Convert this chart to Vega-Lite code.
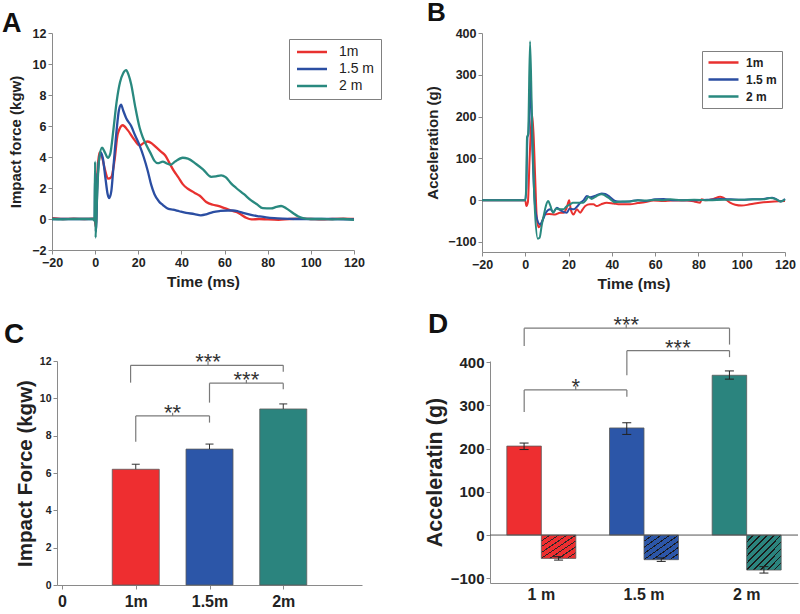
{
  "$schema": "https://vega.github.io/schema/vega-lite/v6.json",
  "autosize": {"type": "pad"},
  "padding": {"left": 2, "top": 0, "right": 0, "bottom": 0},
  "background": "white",
  "config": {
    "font": "Liberation Sans",
    "view": {"stroke": null},
    "axis": {"domainColor": "#8a8a8a", "tickColor": "#8a8a8a", "labelColor": "#222222", "titleColor": "#222222", "labelFontWeight": "bold", "titleFontWeight": "bold", "grid": false, "tickSize": 4, "labelPadding": 2, "labelFont": "Liberation Sans", "titleFont": "Liberation Sans", "labelFlush": false, "labelOverlap": false},
    "title": {"font": "Liberation Sans", "fontWeight": "bold", "anchor": "start", "frame": "group", "color": "#111111", "baseline": "alphabetic"}
  },
  "datasets": {
    "forceCurves": [
      {"s":"1m","t":-20,"v":0.05},{"s":"1m","t":-15,"v":0.0},{"s":"1m","t":-10,"v":0.02},{"s":"1m","t":-5,"v":0.0},{"s":"1m","t":-1,"v":0.02},{"s":"1m","t":-0.2,"v":0.0},{"s":"1m","t":0.3,"v":-0.5},{"s":"1m","t":1,"v":2.8},{"s":"1m","t":2,"v":4.3},{"s":"1m","t":3.2,"v":4.0},{"s":"1m","t":4.5,"v":3.2},{"s":"1m","t":6,"v":2.6},{"s":"1m","t":7.5,"v":2.7},{"s":"1m","t":9,"v":3.8},{"s":"1m","t":10.5,"v":5.5},{"s":"1m","t":12.8,"v":6.05},{"s":"1m","t":15,"v":5.75},{"s":"1m","t":18,"v":5.15},{"s":"1m","t":20.6,"v":4.75},{"s":"1m","t":22.5,"v":4.9},{"s":"1m","t":24.4,"v":5.0},{"s":"1m","t":26.5,"v":4.85},{"s":"1m","t":28.5,"v":4.6},{"s":"1m","t":30.5,"v":4.35},{"s":"1m","t":32.5,"v":4.1},{"s":"1m","t":34.5,"v":3.6},{"s":"1m","t":36.5,"v":3.1},{"s":"1m","t":38.5,"v":2.7},{"s":"1m","t":40.6,"v":2.25},{"s":"1m","t":43,"v":1.95},{"s":"1m","t":46,"v":1.7},{"s":"1m","t":48.5,"v":1.5},{"s":"1m","t":51.5,"v":1.1},{"s":"1m","t":54.6,"v":0.92},{"s":"1m","t":57,"v":0.85},{"s":"1m","t":60,"v":0.7},{"s":"1m","t":63,"v":0.55},{"s":"1m","t":65.5,"v":0.45},{"s":"1m","t":67.7,"v":0.28},{"s":"1m","t":70,"v":0.08},{"s":"1m","t":72.5,"v":-0.03},{"s":"1m","t":76,"v":0.0},{"s":"1m","t":80,"v":-0.03},{"s":"1m","t":85,"v":-0.05},{"s":"1m","t":90,"v":0.0},{"s":"1m","t":95,"v":0.02},{"s":"1m","t":100,"v":0.0},{"s":"1m","t":105,"v":-0.03},{"s":"1m","t":110,"v":0.0},{"s":"1m","t":115,"v":0.02},{"s":"1m","t":120,"v":0.0},
      {"s":"1.5 m","t":-20,"v":0.0},{"s":"1.5 m","t":-10,"v":0.0},{"s":"1.5 m","t":-1,"v":0.0},{"s":"1.5 m","t":-0.2,"v":0.0},{"s":"1.5 m","t":0,"v":3.0},{"s":"1.5 m","t":0.3,"v":-0.8},{"s":"1.5 m","t":1.2,"v":2.8},{"s":"1.5 m","t":2.6,"v":4.3},{"s":"1.5 m","t":3.6,"v":3.9},{"s":"1.5 m","t":4.8,"v":2.6},{"s":"1.5 m","t":5.8,"v":1.6},{"s":"1.5 m","t":6.5,"v":1.35},{"s":"1.5 m","t":7.5,"v":1.8},{"s":"1.5 m","t":8.5,"v":3.4},{"s":"1.5 m","t":10,"v":5.8},{"s":"1.5 m","t":11,"v":7.0},{"s":"1.5 m","t":12,"v":7.38},{"s":"1.5 m","t":13,"v":7.0},{"s":"1.5 m","t":14.4,"v":6.5},{"s":"1.5 m","t":16.7,"v":6.0},{"s":"1.5 m","t":18.5,"v":5.4},{"s":"1.5 m","t":20.6,"v":4.75},{"s":"1.5 m","t":22.5,"v":4.0},{"s":"1.5 m","t":24.4,"v":3.1},{"s":"1.5 m","t":26,"v":2.2},{"s":"1.5 m","t":27.5,"v":1.6},{"s":"1.5 m","t":29.5,"v":1.15},{"s":"1.5 m","t":31.4,"v":0.9},{"s":"1.5 m","t":34,"v":0.65},{"s":"1.5 m","t":36,"v":0.6},{"s":"1.5 m","t":39,"v":0.5},{"s":"1.5 m","t":42.2,"v":0.4},{"s":"1.5 m","t":46,"v":0.32},{"s":"1.5 m","t":49,"v":0.24},{"s":"1.5 m","t":51.5,"v":0.3},{"s":"1.5 m","t":54.6,"v":0.45},{"s":"1.5 m","t":58,"v":0.52},{"s":"1.5 m","t":61.5,"v":0.55},{"s":"1.5 m","t":64,"v":0.55},{"s":"1.5 m","t":66.2,"v":0.5},{"s":"1.5 m","t":69,"v":0.38},{"s":"1.5 m","t":72.3,"v":0.26},{"s":"1.5 m","t":76,"v":0.17},{"s":"1.5 m","t":79.3,"v":0.1},{"s":"1.5 m","t":83,"v":0.05},{"s":"1.5 m","t":87,"v":0.02},{"s":"1.5 m","t":92,"v":0.0},{"s":"1.5 m","t":100,"v":0.0},{"s":"1.5 m","t":110,"v":0.0},{"s":"1.5 m","t":120,"v":-0.02},
      {"s":"2 m","t":-20,"v":0.0},{"s":"2 m","t":-15,"v":-0.02},{"s":"2 m","t":-10,"v":0.0},{"s":"2 m","t":-5,"v":0.0},{"s":"2 m","t":-1,"v":0.0},{"s":"2 m","t":-0.3,"v":-0.1},{"s":"2 m","t":0,"v":3.7},{"s":"2 m","t":0.2,"v":-1.2},{"s":"2 m","t":0.8,"v":1.2},{"s":"2 m","t":1.8,"v":3.8},{"s":"2 m","t":3.2,"v":4.6},{"s":"2 m","t":4.5,"v":4.3},{"s":"2 m","t":5.9,"v":3.95},{"s":"2 m","t":7,"v":4.2},{"s":"2 m","t":8.5,"v":5.8},{"s":"2 m","t":10,"v":7.6},{"s":"2 m","t":11.5,"v":8.8},{"s":"2 m","t":13,"v":9.4},{"s":"2 m","t":14.4,"v":9.6},{"s":"2 m","t":15.5,"v":9.3},{"s":"2 m","t":16.7,"v":8.7},{"s":"2 m","t":18.5,"v":7.3},{"s":"2 m","t":20.6,"v":5.9},{"s":"2 m","t":22,"v":5.3},{"s":"2 m","t":23.6,"v":4.8},{"s":"2 m","t":25.5,"v":4.3},{"s":"2 m","t":27.5,"v":3.75},{"s":"2 m","t":29,"v":3.6},{"s":"2 m","t":31.4,"v":3.7},{"s":"2 m","t":33,"v":3.6},{"s":"2 m","t":35,"v":3.5},{"s":"2 m","t":37,"v":3.7},{"s":"2 m","t":40.6,"v":3.95},{"s":"2 m","t":43,"v":3.9},{"s":"2 m","t":46.8,"v":3.55},{"s":"2 m","t":50,"v":3.2},{"s":"2 m","t":53.8,"v":2.72},{"s":"2 m","t":56,"v":2.75},{"s":"2 m","t":58.4,"v":2.82},{"s":"2 m","t":60.5,"v":2.7},{"s":"2 m","t":63,"v":2.3},{"s":"2 m","t":65.4,"v":2.0},{"s":"2 m","t":69,"v":1.6},{"s":"2 m","t":72.3,"v":1.2},{"s":"2 m","t":75,"v":0.95},{"s":"2 m","t":77.7,"v":0.7},{"s":"2 m","t":81.6,"v":0.68},{"s":"2 m","t":84,"v":0.78},{"s":"2 m","t":86.2,"v":0.84},{"s":"2 m","t":88.5,"v":0.7},{"s":"2 m","t":91.7,"v":0.39},{"s":"2 m","t":94,"v":0.18},{"s":"2 m","t":96.3,"v":0.06},{"s":"2 m","t":100,"v":0.0},{"s":"2 m","t":105,"v":0.0},{"s":"2 m","t":110,"v":-0.02},{"s":"2 m","t":115,"v":0.0},{"s":"2 m","t":120,"v":-0.05}
    ],
    "accelCurves": [
      {"s":"1m","t":-20,"v":0},{"s":"1m","t":-10,"v":0},{"s":"1m","t":-1,"v":0},{"s":"1m","t":0,"v":0},{"s":"1m","t":0.5,"v":-14},{"s":"1m","t":1.2,"v":-5},{"s":"1m","t":2.0,"v":100},{"s":"1m","t":3.1,"v":207},{"s":"1m","t":3.8,"v":160},{"s":"1m","t":4.6,"v":50},{"s":"1m","t":5.3,"v":-40},{"s":"1m","t":6.2,"v":-65},{"s":"1m","t":7.5,"v":-55},{"s":"1m","t":9.1,"v":-34},{"s":"1m","t":11,"v":-33},{"s":"1m","t":13.8,"v":-34},{"s":"1m","t":16,"v":-30},{"s":"1m","t":17.7,"v":-30},{"s":"1m","t":19,"v":-20},{"s":"1m","t":20.3,"v":0},{"s":"1m","t":21,"v":-22},{"s":"1m","t":22.3,"v":-34},{"s":"1m","t":23.8,"v":-22},{"s":"1m","t":25.4,"v":-30},{"s":"1m","t":26.5,"v":-22},{"s":"1m","t":27.7,"v":-14},{"s":"1m","t":29.9,"v":-10},{"s":"1m","t":31.5,"v":-10},{"s":"1m","t":33,"v":-14},{"s":"1m","t":35,"v":-10},{"s":"1m","t":37.6,"v":-6},{"s":"1m","t":40.8,"v":-8},{"s":"1m","t":43.8,"v":-10},{"s":"1m","t":48.4,"v":-10},{"s":"1m","t":52,"v":-7},{"s":"1m","t":55,"v":-5},{"s":"1m","t":59.2,"v":-1},{"s":"1m","t":63.8,"v":-2},{"s":"1m","t":68,"v":-1},{"s":"1m","t":74.6,"v":-1},{"s":"1m","t":78,"v":-3},{"s":"1m","t":80.8,"v":-6},{"s":"1m","t":81.5,"v":2},{"s":"1m","t":83,"v":0},{"s":"1m","t":86.9,"v":3},{"s":"1m","t":90,"v":8},{"s":"1m","t":91.5,"v":6},{"s":"1m","t":94.6,"v":-6},{"s":"1m","t":97,"v":-11},{"s":"1m","t":100,"v":-13},{"s":"1m","t":103.8,"v":-10},{"s":"1m","t":110,"v":-5},{"s":"1m","t":115,"v":-3},{"s":"1m","t":120,"v":-2},
      {"s":"1.5 m","t":-20,"v":0},{"s":"1.5 m","t":-10,"v":0},{"s":"1.5 m","t":-1,"v":0},{"s":"1.5 m","t":0,"v":0},{"s":"1.5 m","t":0.5,"v":30},{"s":"1.5 m","t":1.0,"v":150},{"s":"1.5 m","t":1.5,"v":160},{"s":"1.5 m","t":2.3,"v":290},{"s":"1.5 m","t":3.3,"v":120},{"s":"1.5 m","t":4.3,"v":0},{"s":"1.5 m","t":5.2,"v":-40},{"s":"1.5 m","t":6.8,"v":-58},{"s":"1.5 m","t":8,"v":-48},{"s":"1.5 m","t":9.5,"v":-30},{"s":"1.5 m","t":11.5,"v":-22},{"s":"1.5 m","t":13,"v":-28},{"s":"1.5 m","t":14.6,"v":-18},{"s":"1.5 m","t":16.5,"v":-25},{"s":"1.5 m","t":19.2,"v":-30},{"s":"1.5 m","t":20.5,"v":-20},{"s":"1.5 m","t":22.3,"v":-22},{"s":"1.5 m","t":24,"v":-15},{"s":"1.5 m","t":25.4,"v":-6},{"s":"1.5 m","t":27,"v":0},{"s":"1.5 m","t":28.4,"v":10},{"s":"1.5 m","t":30,"v":7},{"s":"1.5 m","t":32,"v":10},{"s":"1.5 m","t":35.3,"v":16},{"s":"1.5 m","t":37,"v":15},{"s":"1.5 m","t":39,"v":8},{"s":"1.5 m","t":41.5,"v":-2},{"s":"1.5 m","t":44,"v":-4},{"s":"1.5 m","t":48,"v":-3},{"s":"1.5 m","t":52,"v":0},{"s":"1.5 m","t":55,"v":-2},{"s":"1.5 m","t":60,"v":2},{"s":"1.5 m","t":64,"v":3},{"s":"1.5 m","t":68,"v":0},{"s":"1.5 m","t":72,"v":0},{"s":"1.5 m","t":78,"v":0},{"s":"1.5 m","t":84,"v":1},{"s":"1.5 m","t":90,"v":3},{"s":"1.5 m","t":95,"v":2},{"s":"1.5 m","t":100,"v":1},{"s":"1.5 m","t":105,"v":2},{"s":"1.5 m","t":110,"v":3},{"s":"1.5 m","t":114,"v":6},{"s":"1.5 m","t":116,"v":2},{"s":"1.5 m","t":118,"v":-3},{"s":"1.5 m","t":120,"v":3},
      {"s":"2 m","t":-20,"v":0},{"s":"2 m","t":-10,"v":0},{"s":"2 m","t":-1,"v":0},{"s":"2 m","t":0,"v":0},{"s":"2 m","t":0.4,"v":30},{"s":"2 m","t":0.8,"v":150},{"s":"2 m","t":1.3,"v":158},{"s":"2 m","t":2.2,"v":380},{"s":"2 m","t":3.0,"v":220},{"s":"2 m","t":3.7,"v":80},{"s":"2 m","t":4.5,"v":-30},{"s":"2 m","t":5.8,"v":-92},{"s":"2 m","t":6.6,"v":-90},{"s":"2 m","t":7.6,"v":-60},{"s":"2 m","t":8.6,"v":-35},{"s":"2 m","t":9.6,"v":-12},{"s":"2 m","t":10.6,"v":-2},{"s":"2 m","t":11.5,"v":-12},{"s":"2 m","t":12.9,"v":-30},{"s":"2 m","t":14.3,"v":-20},{"s":"2 m","t":15.5,"v":-22},{"s":"2 m","t":17.6,"v":-22},{"s":"2 m","t":19,"v":-15},{"s":"2 m","t":20.7,"v":-10},{"s":"2 m","t":22,"v":-6},{"s":"2 m","t":23.8,"v":-6},{"s":"2 m","t":26.8,"v":-6},{"s":"2 m","t":28,"v":0},{"s":"2 m","t":29.1,"v":8},{"s":"2 m","t":30.7,"v":3},{"s":"2 m","t":33,"v":10},{"s":"2 m","t":35.3,"v":14},{"s":"2 m","t":38.4,"v":6},{"s":"2 m","t":41.5,"v":-5},{"s":"2 m","t":45,"v":-3},{"s":"2 m","t":48.5,"v":-3},{"s":"2 m","t":52,"v":0},{"s":"2 m","t":56,"v":-1},{"s":"2 m","t":60,"v":1},{"s":"2 m","t":63.8,"v":0},{"s":"2 m","t":67,"v":2},{"s":"2 m","t":72,"v":0},{"s":"2 m","t":78,"v":1},{"s":"2 m","t":85,"v":0},{"s":"2 m","t":92,"v":1},{"s":"2 m","t":100,"v":1},{"s":"2 m","t":106,"v":2},{"s":"2 m","t":110,"v":2},{"s":"2 m","t":113,"v":5},{"s":"2 m","t":116,"v":2},{"s":"2 m","t":118,"v":-3},{"s":"2 m","t":120,"v":2}
    ],
    "forceBars": [
      {"h":"1m","idx":1,"f":6.2,"hi":6.47},
      {"h":"1.5m","idx":2,"f":7.28,"hi":7.55},
      {"h":"2m","idx":3,"f":9.43,"hi":9.7}
    ],
    "forceBrackets": [
      {"from":1,"to":2,"mid":1.5,"level":9.06,"legL":7.68,"legR":8.7,"top":9.23,"label":"**"},
      {"from":2,"to":3,"mid":2.5,"level":10.81,"legL":9.77,"legR":10.49,"top":10.98,"label":"***"},
      {"from":0.93,"to":3,"mid":1.98,"level":11.77,"legL":10.84,"legR":11.43,"top":12.0,"label":"***"}
    ],
    "accelBars": [
      {"g":"1 m","k":"peak","v":206,"lo":198,"hi":213},
      {"g":"1 m","k":"trough","v":-54,"lo":-58,"hi":-50},
      {"g":"1.5 m","k":"peak","v":248,"lo":233,"hi":260},
      {"g":"1.5 m","k":"trough","v":-57,"lo":-61,"hi":-53},
      {"g":"2 m","k":"peak","v":370,"lo":361,"hi":380},
      {"g":"2 m","k":"trough","v":-81,"lo":-88,"hi":-73}
    ],
    "accelBrackets": [
      {"from":0.333,"to":1.333,"mid":0.835,"level":336,"legL":285,"legR":320,"top":345,"label":"*"},
      {"from":1.333,"to":2.333,"mid":1.83,"level":427,"legL":370,"legR":412,"top":436,"label":"***"},
      {"from":0.333,"to":2.333,"mid":1.327,"level":479,"legL":438,"legR":441,"top":488,"label":"***"}
    ],
    "zeroLine": [{"x0": 0, "x1": 3, "y": 0}]
  },
  "columns": 2,
  "align": "none",
  "bounds": "flush",
  "spacing": {"row": 109, "column": 120},
  "resolve": {"scale": {"color": "independent"}, "legend": {"color": "independent"}},
  "concat": [
    {
      "width": 302, "height": 217,
      "title": {"text": "A", "fontSize": 27, "dx": -50, "offset": -11},
      "data": {"name": "forceCurves"},
      "mark": {"type": "line", "strokeWidth": 2.3, "interpolate": "monotone"},
      "encoding": {
        "x": {"field": "t", "type": "quantitative", "scale": {"domain": [-20, 120], "nice": false, "zero": false},
              "axis": {"values": [-20, 0, 20, 40, 60, 80, 100, 120], "title": "Time (ms)", "titleFontSize": 15.5, "labelFontSize": 12.5, "titlePadding": 6}},
        "y": {"field": "v", "type": "quantitative", "scale": {"domain": [-2, 12], "nice": false, "zero": false},
              "axis": {"values": [-2, 0, 2, 4, 6, 8, 10, 12], "title": "Impact force (kgw)", "titleFontSize": 15, "labelFontSize": 12.5, "titlePadding": 8}},
        "color": {"field": "s", "type": "nominal", "scale": {"domain": ["1m", "1.5 m", "2 m"], "range": ["#e8312f", "#2b4ea2", "#29897f"]},
                  "legend": {"title": null, "orient": "none", "legendX": 237, "legendY": 6, "symbolType": "M-1,0L5,0", "symbolSize": 100, "symbolStrokeWidth": 2.5, "labelFontSize": 14, "labelFontWeight": "normal", "labelColor": "#222222", "labelOffset": 30, "padding": 6, "rowPadding": 3, "strokeColor": "#808080", "fillColor": "white"}}
      }
    },
    {
      "width": 303, "height": 219,
      "title": {"text": "B", "fontSize": 26, "dx": -55, "offset": 1},
      "data": {"name": "accelCurves"},
      "mark": {"type": "line", "strokeWidth": 2, "interpolate": "monotone"},
      "encoding": {
        "x": {"field": "t", "type": "quantitative", "scale": {"domain": [-20, 120], "nice": false, "zero": false},
              "axis": {"values": [-20, 0, 20, 40, 60, 80, 100, 120], "title": "Time (ms)", "titleFontSize": 15.5, "labelFontSize": 12.5, "titlePadding": 6}},
        "y": {"field": "v", "type": "quantitative", "scale": {"domain": [-124, 400], "nice": false, "zero": false},
              "axis": {"values": [-100, 0, 100, 200, 300, 400], "title": "Acceleration (g)", "titleFontSize": 15, "labelFontSize": 12.5, "titlePadding": 7}},
        "color": {"field": "s", "type": "nominal", "scale": {"domain": ["1m", "1.5 m", "2 m"], "range": ["#e8312f", "#2b4ea2", "#29897f"]},
                  "legend": {"title": null, "orient": "none", "legendX": 220, "legendY": 18, "symbolType": "M-1,0L5,0", "symbolSize": 100, "symbolStrokeWidth": 2.5, "labelFontSize": 12, "labelFontWeight": "bold", "labelColor": "#222222", "labelOffset": 26, "padding": 5, "rowPadding": 4, "strokeColor": "#808080", "fillColor": "white"}}
      }
    },
    {
      "width": 310, "height": 224,
      "title": {"text": "C", "fontSize": 28, "dx": -48, "offset": 2},
      "layer": [
        {
          "data": {"name": "forceBars"},
          "mark": {"type": "bar", "orient": "vertical", "width": 47, "stroke": "#5a5a5a", "strokeWidth": 0.8},
          "encoding": {
            "x": {"field": "idx", "type": "quantitative", "scale": {"domain": [0, 4], "range": [5, 310], "nice": false, "zero": false},
                  "axis": {"values": [0, 1, 2, 3], "labelExpr": "datum.value == 0 ? '0' : datum.value == 1 ? '1m' : datum.value == 2 ? '1.5m' : '2m'", "title": null, "labelFontSize": 16, "labelPadding": 4}},
            "y": {"field": "f", "type": "quantitative", "scale": {"domain": [0, 12], "nice": false},
                  "axis": {"values": [0, 2, 4, 6, 8, 10, 12], "tickCount": 7, "labelOverlap": false, "offset": -5, "title": "Impact Force (kgw)", "titleFontSize": 20.5, "labelFontSize": 10.5, "titlePadding": 4}},
            "color": {"field": "h", "type": "nominal", "scale": {"domain": ["1m", "1.5m", "2m"], "range": ["#ee2e30", "#2c56a8", "#2b847e"]}, "legend": null}
          }
        },
        {
          "data": {"name": "forceBars"},
          "mark": {"type": "rule", "color": "#333333", "strokeWidth": 1},
          "encoding": {"x": {"field": "idx", "type": "quantitative"}, "y": {"field": "f", "type": "quantitative", "axis": {"values": [0, 2, 4, 6, 8, 10, 12], "tickCount": 7, "labelOverlap": false, "offset": -5, "title": "Impact Force (kgw)", "titleFontSize": 20.5, "labelFontSize": 10.5, "titlePadding": 4}}, "y2": {"field": "hi"}}
        },
        {
          "data": {"name": "forceBars"},
          "mark": {"type": "point", "shape": "stroke", "size": 64, "color": "#333333", "strokeWidth": 1, "filled": false, "opacity": 1},
          "encoding": {"x": {"field": "idx", "type": "quantitative"}, "y": {"field": "hi", "type": "quantitative", "axis": {"values": [0, 2, 4, 6, 8, 10, 12], "tickCount": 7, "labelOverlap": false, "offset": -5, "title": "Impact Force (kgw)", "titleFontSize": 20.5, "labelFontSize": 10.5, "titlePadding": 4}}}
        },
        {
          "data": {"name": "forceBrackets"},
          "mark": {"type": "rule", "color": "#7a7a7a", "strokeWidth": 1.2},
          "encoding": {"x": {"field": "from", "type": "quantitative"}, "x2": {"field": "to"}, "y": {"field": "level", "type": "quantitative", "axis": {"values": [0, 2, 4, 6, 8, 10, 12], "tickCount": 7, "labelOverlap": false, "offset": -5, "title": "Impact Force (kgw)", "titleFontSize": 20.5, "labelFontSize": 10.5, "titlePadding": 4}}}
        },
        {
          "data": {"name": "forceBrackets"},
          "mark": {"type": "rule", "color": "#7a7a7a", "strokeWidth": 1.2},
          "encoding": {"x": {"field": "from", "type": "quantitative"}, "y": {"field": "legL", "type": "quantitative", "axis": {"values": [0, 2, 4, 6, 8, 10, 12], "tickCount": 7, "labelOverlap": false, "offset": -5, "title": "Impact Force (kgw)", "titleFontSize": 20.5, "labelFontSize": 10.5, "titlePadding": 4}}, "y2": {"field": "level"}}
        },
        {
          "data": {"name": "forceBrackets"},
          "mark": {"type": "rule", "color": "#7a7a7a", "strokeWidth": 1.2},
          "encoding": {"x": {"field": "to", "type": "quantitative"}, "y": {"field": "legR", "type": "quantitative", "axis": {"values": [0, 2, 4, 6, 8, 10, 12], "tickCount": 7, "labelOverlap": false, "offset": -5, "title": "Impact Force (kgw)", "titleFontSize": 20.5, "labelFontSize": 10.5, "titlePadding": 4}}, "y2": {"field": "level"}}
        },
        {
          "data": {"name": "forceBrackets"},
          "mark": {"type": "rule", "color": "#7a7a7a", "strokeWidth": 1.2},
          "encoding": {"x": {"field": "mid", "type": "quantitative"}, "y": {"field": "level", "type": "quantitative", "axis": {"values": [0, 2, 4, 6, 8, 10, 12], "tickCount": 7, "labelOverlap": false, "offset": -5, "title": "Impact Force (kgw)", "titleFontSize": 20.5, "labelFontSize": 10.5, "titlePadding": 4}}, "y2": {"field": "top"}}
        },
        {
          "data": {"name": "forceBrackets"},
          "mark": {"type": "text", "fontSize": 22, "color": "#333333", "baseline": "alphabetic", "dy": 4},
          "encoding": {"x": {"field": "mid", "type": "quantitative"}, "y": {"field": "level", "type": "quantitative", "axis": {"values": [0, 2, 4, 6, 8, 10, 12], "tickCount": 7, "labelOverlap": false, "offset": -5, "title": "Impact Force (kgw)", "titleFontSize": 20.5, "labelFontSize": 10.5, "titlePadding": 4}}, "text": {"field": "label"}}
        }
      ]
    },
    {
      "width": 316, "height": 222,
      "title": {"text": "D", "fontSize": 28, "dx": -54, "offset": -25},
      "resolve": {"scale": {"x": "independent"}},
      "layer": [
        {
          "data": {"name": "accelBars"},
          "encoding": {
            "x": {"field": "g", "type": "nominal", "sort": null, "scale": {"domain": ["1 m", "1.5 m", "2 m"], "range": [8, 316], "paddingInner": 0, "paddingOuter": 0},
                  "axis": {"title": null, "labelFontSize": 16, "labelPadding": 3, "ticks": false, "labelAngle": 0}},
            "xOffset": {"field": "k", "type": "nominal", "scale": {"domain": ["peak", "trough"], "paddingInner": 0, "paddingOuter": 0.488}},
            "y": {"field": "v", "type": "quantitative", "scale": {"domain": [-111, 403], "nice": false},
                  "axis": {"values": [-100, 0, 100, 200, 300, 400], "offset": -8, "title": "Acceleratin (g)", "titleFontSize": 21.5, "labelFontSize": 15, "titlePadding": 4}}
          },
          "layer": [
            {
              "transform": [{"filter": "datum.k == 'peak'"}],
              "mark": {"type": "bar", "stroke": "#5a5a5a", "strokeWidth": 0.8},
              "encoding": {"color": {"field": "g", "type": "nominal", "scale": {"domain": ["1 m", "1.5 m", "2 m"], "range": ["#ee2e30", "#2c56a8", "#2b847e"]}, "legend": null}}
            },
            {
              "transform": [{"filter": "datum.k == 'trough' && datum.g == '1 m'"}],
              "mark": {"type": "bar", "stroke": "#5a5a5a", "strokeWidth": 0.8, "fill": {"gradient": "linear", "x1": 0, "y1": 0, "x2": 1, "y2": 1, "stops": [
                {"offset": 0, "color": "#ee2e30"}, {"offset": 0.113, "color": "#ee2e30"}, {"offset": 0.113, "color": "#2a2a2a"}, {"offset": 0.137, "color": "#2a2a2a"}, {"offset": 0.137, "color": "#ee2e30"},
                {"offset": 0.238, "color": "#ee2e30"}, {"offset": 0.238, "color": "#2a2a2a"}, {"offset": 0.262, "color": "#2a2a2a"}, {"offset": 0.262, "color": "#ee2e30"},
                {"offset": 0.363, "color": "#ee2e30"}, {"offset": 0.363, "color": "#2a2a2a"}, {"offset": 0.387, "color": "#2a2a2a"}, {"offset": 0.387, "color": "#ee2e30"},
                {"offset": 0.488, "color": "#ee2e30"}, {"offset": 0.488, "color": "#2a2a2a"}, {"offset": 0.512, "color": "#2a2a2a"}, {"offset": 0.512, "color": "#ee2e30"},
                {"offset": 0.613, "color": "#ee2e30"}, {"offset": 0.613, "color": "#2a2a2a"}, {"offset": 0.637, "color": "#2a2a2a"}, {"offset": 0.637, "color": "#ee2e30"},
                {"offset": 0.738, "color": "#ee2e30"}, {"offset": 0.738, "color": "#2a2a2a"}, {"offset": 0.762, "color": "#2a2a2a"}, {"offset": 0.762, "color": "#ee2e30"},
                {"offset": 0.863, "color": "#ee2e30"}, {"offset": 0.863, "color": "#2a2a2a"}, {"offset": 0.887, "color": "#2a2a2a"}, {"offset": 0.887, "color": "#ee2e30"},
                {"offset": 1, "color": "#ee2e30"}]}}
            },
            {
              "transform": [{"filter": "datum.k == 'trough' && datum.g == '1.5 m'"}],
              "mark": {"type": "bar", "stroke": "#5a5a5a", "strokeWidth": 0.8, "fill": {"gradient": "linear", "x1": 0, "y1": 0, "x2": 1, "y2": 1, "stops": [
                {"offset": 0, "color": "#2c56a8"}, {"offset": 0.113, "color": "#2c56a8"}, {"offset": 0.113, "color": "#1a1a1a"}, {"offset": 0.137, "color": "#1a1a1a"}, {"offset": 0.137, "color": "#2c56a8"},
                {"offset": 0.238, "color": "#2c56a8"}, {"offset": 0.238, "color": "#1a1a1a"}, {"offset": 0.262, "color": "#1a1a1a"}, {"offset": 0.262, "color": "#2c56a8"},
                {"offset": 0.363, "color": "#2c56a8"}, {"offset": 0.363, "color": "#1a1a1a"}, {"offset": 0.387, "color": "#1a1a1a"}, {"offset": 0.387, "color": "#2c56a8"},
                {"offset": 0.488, "color": "#2c56a8"}, {"offset": 0.488, "color": "#1a1a1a"}, {"offset": 0.512, "color": "#1a1a1a"}, {"offset": 0.512, "color": "#2c56a8"},
                {"offset": 0.613, "color": "#2c56a8"}, {"offset": 0.613, "color": "#1a1a1a"}, {"offset": 0.637, "color": "#1a1a1a"}, {"offset": 0.637, "color": "#2c56a8"},
                {"offset": 0.738, "color": "#2c56a8"}, {"offset": 0.738, "color": "#1a1a1a"}, {"offset": 0.762, "color": "#1a1a1a"}, {"offset": 0.762, "color": "#2c56a8"},
                {"offset": 0.863, "color": "#2c56a8"}, {"offset": 0.863, "color": "#1a1a1a"}, {"offset": 0.887, "color": "#1a1a1a"}, {"offset": 0.887, "color": "#2c56a8"},
                {"offset": 1, "color": "#2c56a8"}]}}
            },
            {
              "transform": [{"filter": "datum.k == 'trough' && datum.g == '2 m'"}],
              "mark": {"type": "bar", "stroke": "#5a5a5a", "strokeWidth": 0.8, "fill": {"gradient": "linear", "x1": 0, "y1": 0, "x2": 1, "y2": 1, "stops": [
                {"offset": 0, "color": "#2b847e"}, {"offset": 0.09, "color": "#2b847e"}, {"offset": 0.09, "color": "#1a1a1a"}, {"offset": 0.11, "color": "#1a1a1a"}, {"offset": 0.11, "color": "#2b847e"},
                {"offset": 0.19, "color": "#2b847e"}, {"offset": 0.19, "color": "#1a1a1a"}, {"offset": 0.21, "color": "#1a1a1a"}, {"offset": 0.21, "color": "#2b847e"},
                {"offset": 0.29, "color": "#2b847e"}, {"offset": 0.29, "color": "#1a1a1a"}, {"offset": 0.31, "color": "#1a1a1a"}, {"offset": 0.31, "color": "#2b847e"},
                {"offset": 0.39, "color": "#2b847e"}, {"offset": 0.39, "color": "#1a1a1a"}, {"offset": 0.41, "color": "#1a1a1a"}, {"offset": 0.41, "color": "#2b847e"},
                {"offset": 0.49, "color": "#2b847e"}, {"offset": 0.49, "color": "#1a1a1a"}, {"offset": 0.51, "color": "#1a1a1a"}, {"offset": 0.51, "color": "#2b847e"},
                {"offset": 0.59, "color": "#2b847e"}, {"offset": 0.59, "color": "#1a1a1a"}, {"offset": 0.61, "color": "#1a1a1a"}, {"offset": 0.61, "color": "#2b847e"},
                {"offset": 0.69, "color": "#2b847e"}, {"offset": 0.69, "color": "#1a1a1a"}, {"offset": 0.71, "color": "#1a1a1a"}, {"offset": 0.71, "color": "#2b847e"},
                {"offset": 0.79, "color": "#2b847e"}, {"offset": 0.79, "color": "#1a1a1a"}, {"offset": 0.81, "color": "#1a1a1a"}, {"offset": 0.81, "color": "#2b847e"},
                {"offset": 0.89, "color": "#2b847e"}, {"offset": 0.89, "color": "#1a1a1a"}, {"offset": 0.91, "color": "#1a1a1a"}, {"offset": 0.91, "color": "#2b847e"},
                {"offset": 1, "color": "#2b847e"}]}}
            },
            {
              "mark": {"type": "rule", "color": "#222222", "strokeWidth": 1},
              "encoding": {"y": {"field": "lo", "type": "quantitative"}, "y2": {"field": "hi"}}
            },
            {
              "mark": {"type": "point", "shape": "stroke", "size": 81, "color": "#222222", "strokeWidth": 1, "filled": false, "opacity": 1},
              "encoding": {"y": {"field": "lo", "type": "quantitative"}}
            },
            {
              "mark": {"type": "point", "shape": "stroke", "size": 81, "color": "#222222", "strokeWidth": 1, "filled": false, "opacity": 1},
              "encoding": {"y": {"field": "hi", "type": "quantitative"}}
            }
          ]
        },
        {
          "layer": [
            {
              "data": {"name": "zeroLine"},
              "mark": {"type": "rule", "color": "#555555", "strokeWidth": 1},
              "encoding": {"x": {"field": "x0", "type": "quantitative", "scale": {"domain": [0, 3], "range": [8, 316], "nice": false, "zero": false}, "axis": null}, "x2": {"field": "x1"}, "y": {"field": "y", "type": "quantitative"}}
            },
            {
              "data": {"name": "accelBrackets"},
              "mark": {"type": "rule", "color": "#7a7a7a", "strokeWidth": 1.2},
              "encoding": {"x": {"field": "from", "type": "quantitative"}, "x2": {"field": "to"}, "y": {"field": "level", "type": "quantitative"}}
            },
            {
              "data": {"name": "accelBrackets"},
              "mark": {"type": "rule", "color": "#7a7a7a", "strokeWidth": 1.2},
              "encoding": {"x": {"field": "from", "type": "quantitative"}, "y": {"field": "legL", "type": "quantitative"}, "y2": {"field": "level"}}
            },
            {
              "data": {"name": "accelBrackets"},
              "mark": {"type": "rule", "color": "#7a7a7a", "strokeWidth": 1.2},
              "encoding": {"x": {"field": "to", "type": "quantitative"}, "y": {"field": "legR", "type": "quantitative"}, "y2": {"field": "level"}}
            },
            {
              "data": {"name": "accelBrackets"},
              "mark": {"type": "rule", "color": "#7a7a7a", "strokeWidth": 1.2},
              "encoding": {"x": {"field": "mid", "type": "quantitative"}, "y": {"field": "level", "type": "quantitative"}, "y2": {"field": "top"}}
            },
            {
              "data": {"name": "accelBrackets"},
              "mark": {"type": "text", "fontSize": 22, "color": "#333333", "baseline": "alphabetic", "dy": 4},
              "encoding": {"x": {"field": "mid", "type": "quantitative"}, "y": {"field": "level", "type": "quantitative"}, "text": {"field": "label"}}
            }
          ]
        }
      ]
    }
  ]
}
